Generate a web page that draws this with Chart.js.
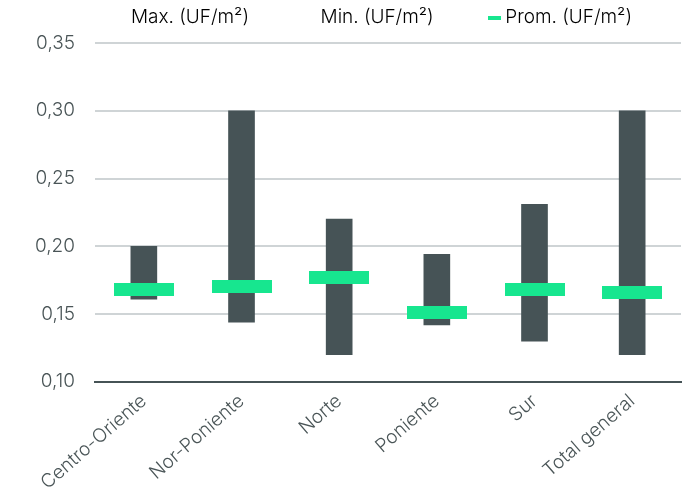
<!DOCTYPE html>
<html>
<head>
<meta charset="utf-8">
<script src="https://cdn.jsdelivr.net/npm/chart.js@4/dist/chart.umd.min.js"></script>
<style>
  body { margin: 0; background: #fff; }
  #wrap { width: 692px; height: 502px; }
</style>
</head>
<body>
<div id="wrap"><canvas id="chart"></canvas></div>
<script>
// data
const zones = ["Centro-Oriente", "Nor-Poniente", "Norte", "Poniente", "Sur", "Total general"];
const maxValues = [0.200, 0.300, 0.220, 0.194, 0.231, 0.300];
const minValues = [0.161, 0.144, 0.120, 0.142, 0.130, 0.120];
const avgValues = [0.168, 0.170, 0.177, 0.151, 0.168, 0.166];
const legendLabels = ["Max. (UF/m²)", "Min. (UF/m²)", "Prom. (UF/m²)"];

const dark = '#465356';
const green = '#17e68f';
const textColor = '#4a5557';

function makeDash(w, h, color) {
    const c = document.createElement('canvas');
    c.width = w;
    c.height = h;
    if (color) {
        const g = c.getContext('2d');
        g.fillStyle = color;
        g.fillRect(0, 0, w, h);
    }
    return c;
}

// green dash used as the average marker, and the small ones for the legend
const marker = makeDash(60, 13, green);
const legendDash = makeDash(13, 4, green);
const noDash = makeDash(13, 4, null);

const ranges = minValues.map((v, i) => [v, maxValues[i]]);

// a little more room between legend and plot, and legend nudged right
const legendTweak = {
    id: 'legendTweak',
    afterInit(chart) {
        const fit = chart.legend.fit;
        chart.legend.fit = function () {
            fit.call(this);
            this.height += 6;
        };
    },
    afterLayout(chart) {
        chart.legend.left += 11;
        chart.legend.right += 11;
    }
};

Chart.defaults.font.family = 'Inter, Roboto, sans-serif';
Chart.defaults.font.size = 19;
Chart.defaults.font.weight = 300;
Chart.defaults.color = textColor;

new Chart(document.getElementById('chart'), {
    data: {
        labels: zones,
        datasets: [
            {
                type: 'line',
                label: legendLabels[2],
                data: avgValues,
                showLine: false,
                pointStyle: marker,
                order: 0
            },
            {
                type: 'bar',
                label: 'Rango',
                data: ranges,
                backgroundColor: dark,
                barThickness: 26,
                order: 1
            }
        ]
    },
    options: {
        responsive: true,
        maintainAspectRatio: false,
        animation: false,
        layout: { padding: { left: 15, right: 11, top: -52, bottom: 8 } },
        plugins: {
            tooltip: { enabled: false },
            legend: {
                position: 'top',
                align: 'end',
                labels: {
                    usePointStyle: true,
                    pointStyleWidth: 2,
                    padding: 60,
                    color: textColor,
                    generateLabels: () => [
                        { text: legendLabels[0], pointStyle: noDash, lineWidth: 0 },
                        { text: legendLabels[1], pointStyle: noDash, lineWidth: 0 },
                        { text: legendLabels[2], pointStyle: legendDash, lineWidth: 0 }
                    ]
                }
            }
        },
        scales: {
            x: {
                grid: { display: false },
                border: { color: dark, width: 2 },
                ticks: { minRotation: 41, maxRotation: 41, padding: 0 }
            },
            y: {
                min: 0.10,
                max: 0.35,
                border: { display: false },
                grid: { color: '#cfd4d6', lineWidth: 2, drawTicks: false },
                ticks: {
                    stepSize: 0.05,
                    padding: 20,
                    callback: v => v.toFixed(2).replace('.', ',')
                }
            }
        }
    },
    plugins: [legendTweak]
});
</script>
</body>
</html>
